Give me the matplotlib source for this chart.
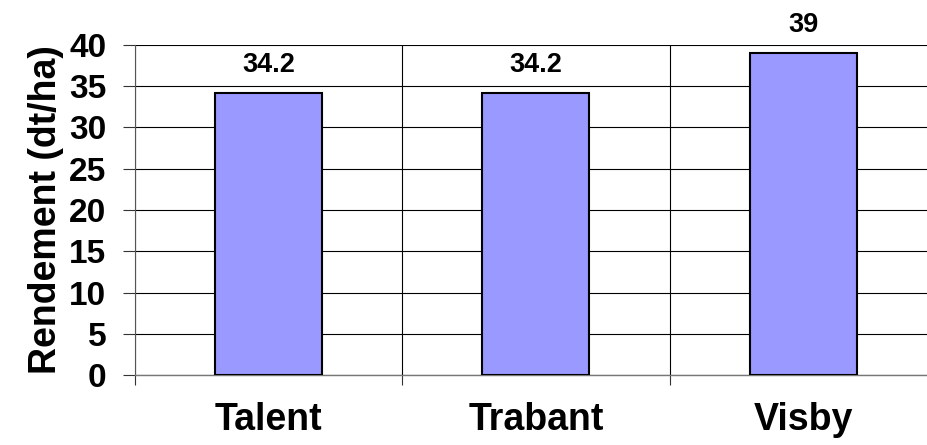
import matplotlib
matplotlib.use("Agg")
import matplotlib.pyplot as plt
from matplotlib.ticker import FixedLocator, NullFormatter
from matplotlib import font_manager

plt.rcParams['font.family'] = ['Liberation Sans', 'DejaVu Sans']

categories = ["Talent", "Trabant", "Visby"]
values = [34.2, 34.2, 39]
value_labels = ["34.2", "34.2", "39"]
yticks = [0, 5, 10, 15, 20, 25, 30, 35, 40]
ylabel = "Rendement (dt/ha)"

names = {f.name for f in font_manager.fontManager.ttflist}
if "Liberation Sans Narrow" in names:
    cat_family, cat_size = ["Liberation Sans Narrow"], 31
else:
    cat_family, cat_size = ["Liberation Sans"], 27

fig = plt.figure(figsize=(9.28, 4.45), dpi=100)
ax = fig.add_axes([0.1455, 0.157, 0.864, 0.742])

x = list(range(len(categories)))
ax.bar(x, values, width=0.4, color="#9999FF", edgecolor="black", linewidth=1.5, zorder=3)

for xi, v, lab in zip(x, values, value_labels):
    ax.annotate(lab, (xi, v), xytext=(0, 11), textcoords="offset points",
                ha="center", va="bottom", fontsize=19.5, fontweight="bold")

ax.set_xlim(-0.5, len(categories) - 0.5)
ax.set_ylim(0, 40)
ax.set_yticks(yticks)
ax.set_yticklabels([str(t) for t in yticks], fontsize=24, fontweight="bold")
ax.set_ylabel(ylabel, fontsize=27, fontweight="bold", labelpad=4)

# boundaries as major ticks (with gridlines), category names as minor ticks
bounds = [i - 0.5 for i in range(len(categories) + 1)]
ax.xaxis.set_major_locator(FixedLocator(bounds))
ax.xaxis.set_major_formatter(NullFormatter())
ax.xaxis.set_minor_locator(FixedLocator(x))
ax.set_xticklabels(categories, minor=True, fontsize=cat_size, fontweight="bold",
                   family=cat_family)
ax.tick_params(axis="x", which="minor", length=0, pad=19)
ax.tick_params(axis="x", which="major", length=7.5, width=0.8, color="#333333")
ax.tick_params(axis="y", length=8.6, width=0.8, pad=12, color="#333333")

ax.grid(True, which="major", color="black", linewidth=0.8, zorder=0)
ax.set_axisbelow(True)
for s in ["top", "right"]:
    ax.spines[s].set_visible(False)
ax.spines["left"].set_color("#555555")
ax.spines["bottom"].set_color("#777777")
ax.spines["left"].set_linewidth(0.8)
ax.spines["bottom"].set_linewidth(1.0)

fig.savefig("out.png", dpi=100)
